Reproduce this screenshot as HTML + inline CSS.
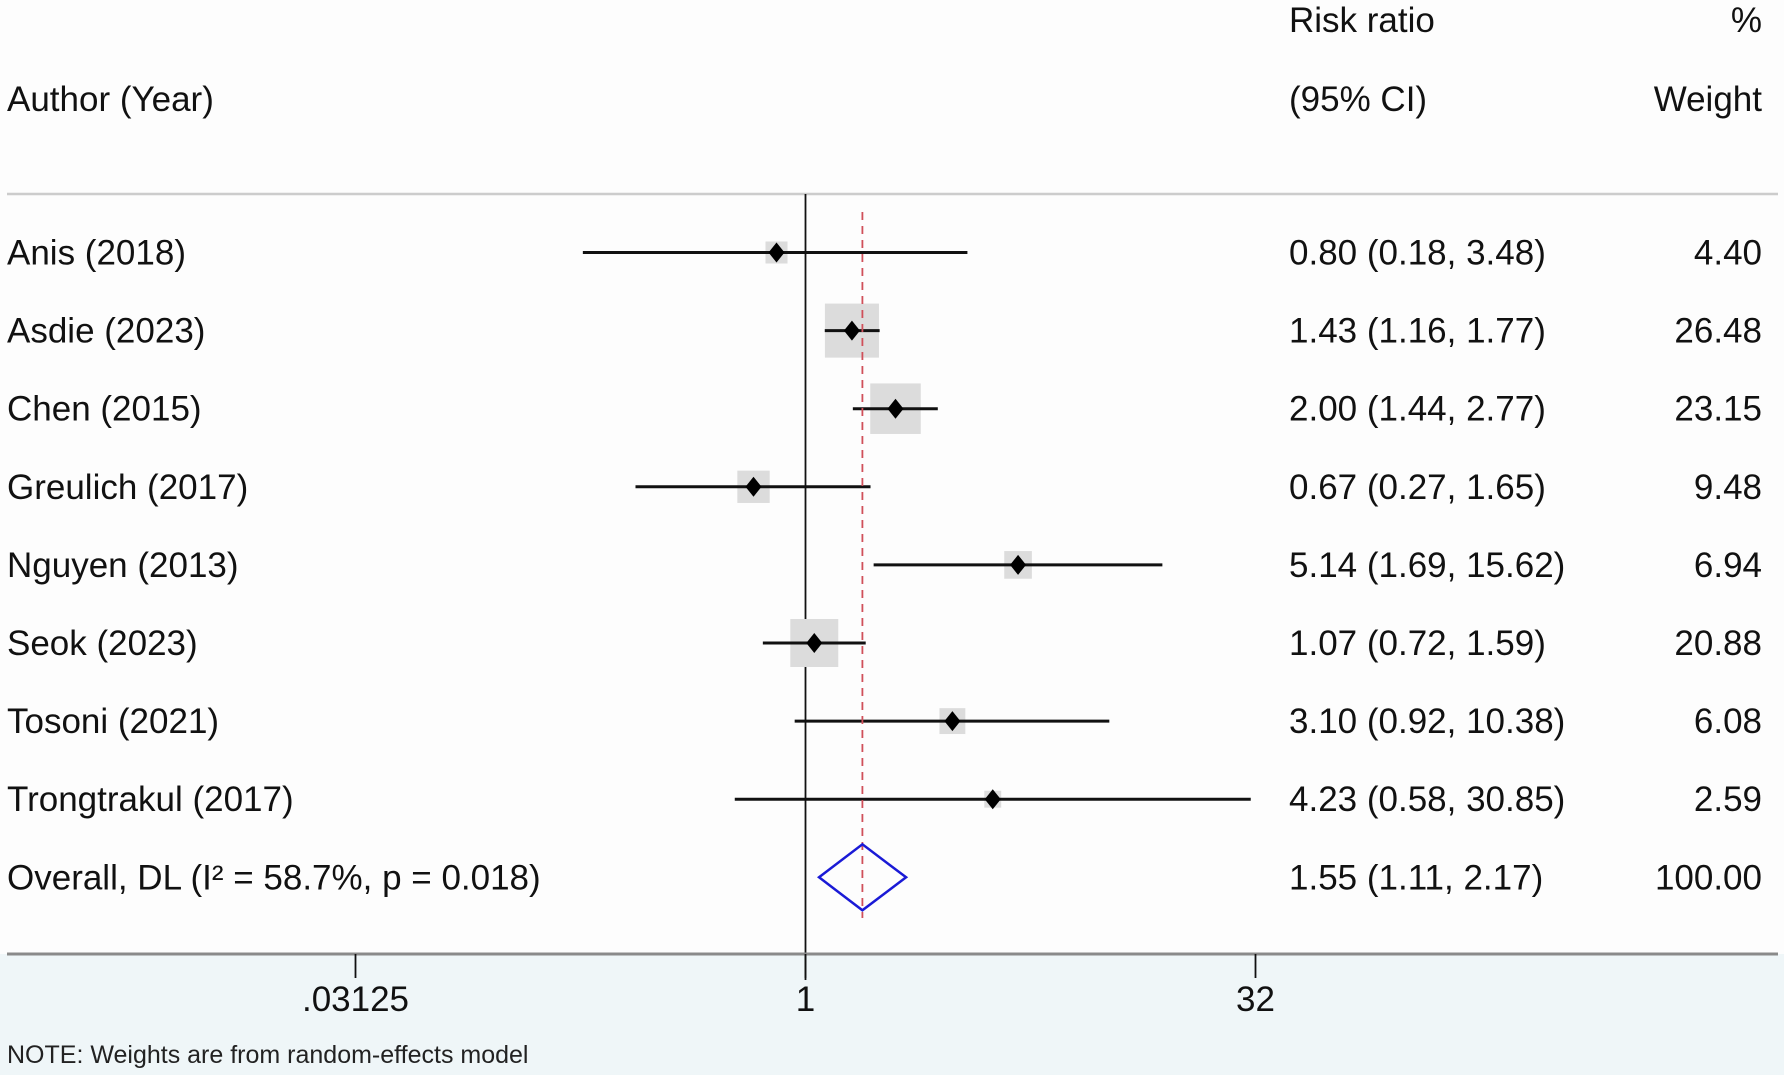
<!DOCTYPE html>
<html><head><meta charset="utf-8"><style>
html,body{margin:0;padding:0;background:#fdfdfd;}
svg{display:block;font-family:"Liberation Sans",sans-serif;}
</style></head><body>
<svg id="chart" width="1784" height="1075" viewBox="0 0 1784 1075">
<rect x="0" y="0" width="1784" height="1075" fill="#fdfdfd"/>
<rect x="0" y="954" width="1784" height="121" fill="#eff6f8"/>
<g font-size="35" fill="#111">
<text x="1289" y="32">Risk ratio</text>
<text x="1762" y="32" text-anchor="end">%</text>
<text x="7" y="111">Author (Year)</text>
<text x="1289" y="111">(95% CI)</text>
<text x="1762" y="111" text-anchor="end">Weight</text>
</g>
<line x1="7" y1="194" x2="1778" y2="194" stroke="#ccc" stroke-width="2.5"/>
<g id="plot"></g>
<line x1="7" y1="954" x2="1778" y2="954" stroke="#8a8a8a" stroke-width="3"/>
<g id="axis" font-size="35" fill="#111"></g>
<text x="7" y="1063" font-size="25" fill="#222">NOTE: Weights are from random-effects model</text>
</svg>
<script>
const authors=["Anis (2018)","Asdie (2023)","Chen (2015)","Greulich (2017)","Nguyen (2013)","Seok (2023)","Tosoni (2021)","Trongtrakul (2017)"];
const rr=[0.80,1.43,2.00,0.67,5.14,1.07,3.10,4.23];
const lo=[0.18,1.16,1.44,0.27,1.69,0.72,0.92,0.58];
const hi=[3.48,1.77,2.77,1.65,15.62,1.59,10.38,30.85];
const weights=[4.40,26.48,23.15,9.48,6.94,20.88,6.08,2.59];
const overall=[1.55,1.11,2.17];
const overallLabel="Overall, DL (I\u00b2 = 58.7%, p = 0.018)";
const tickVals=[0.03125,1,32];
const tickLabels=[".03125","1","32"];
const NS="http://www.w3.org/2000/svg";
const x=v=>805.5+90*Math.log2(v);
const y=i=>252.5+78.1*i;
const f=v=>v.toFixed(2);
const plot=document.getElementById('plot'),axis=document.getElementById('axis');
function mk(tag,attrs,parent,text){const e=document.createElementNS(NS,tag);for(const k in attrs)e.setAttribute(k,attrs[k]);if(text!==undefined)e.textContent=text;parent.appendChild(e);return e;}
const nl=mk('line',{x1:x(1),y1:194,x2:x(1),y2:980,stroke:'#111','stroke-width':1.8},plot);


authors.forEach((a,i)=>{
  const cy=y(i),s=10.5*Math.sqrt(weights[i]);
  const b=mk('rect',{x:x(rr[i])-s/2,y:cy-s/2,width:s,height:s,fill:'#dcdcdc'},plot);
  
  
  const l=mk('line',{x1:x(lo[i]),y1:cy,x2:x(hi[i]),y2:cy,stroke:'#111','stroke-width':3},plot);
  
  
  const px=x(rr[i]);
  const d=mk('polygon',{points:`${px-8},${cy} ${px},${cy-10} ${px+8},${cy} ${px},${cy+10}`,fill:'#000'},plot);
  
  
  const t1=mk('text',{x:7,y:cy+12,'font-size':35,fill:'#111'},plot,a);
  
  
  const t2=mk('text',{x:1289,y:cy+12,'font-size':35,fill:'#111'},plot,`${f(rr[i])} (${f(lo[i])}, ${f(hi[i])})`);
  
  
  const t3=mk('text',{x:1762,y:cy+12,'font-size':35,fill:'#111','text-anchor':'end'},plot,f(weights[i]));
  
  
});
const oy=y(authors.length);
const rl=mk('line',{x1:x(overall[0]),y1:212,x2:x(overall[0]),y2:918,stroke:'#d0505a','stroke-width':1.8,'stroke-dasharray':'8,6'},plot);


const od=mk('polygon',{points:`${x(overall[1])},${oy} ${x(overall[0])},${oy-33} ${x(overall[2])},${oy} ${x(overall[0])},${oy+33}`,fill:'none',stroke:'#1a1ad6','stroke-width':2.5},plot);


const o1=mk('text',{x:7,y:oy+12,'font-size':35,fill:'#111'},plot,overallLabel);


const o2=mk('text',{x:1289,y:oy+12,'font-size':35,fill:'#111'},plot,`${f(overall[0])} (${f(overall[1])}, ${f(overall[2])})`);


const o3=mk('text',{x:1762,y:oy+12,'font-size':35,fill:'#111','text-anchor':'end'},plot,"100.00");


tickVals.forEach((v,i)=>{
  const tk=mk('line',{x1:x(v),y1:954,x2:x(v),y2:978,stroke:'#111','stroke-width':1.8},axis);
  
  
  const tl=mk('text',{x:x(v),y:1011,'text-anchor':'middle'},axis,tickLabels[i]);
  
  
});
</script>
</body></html>
